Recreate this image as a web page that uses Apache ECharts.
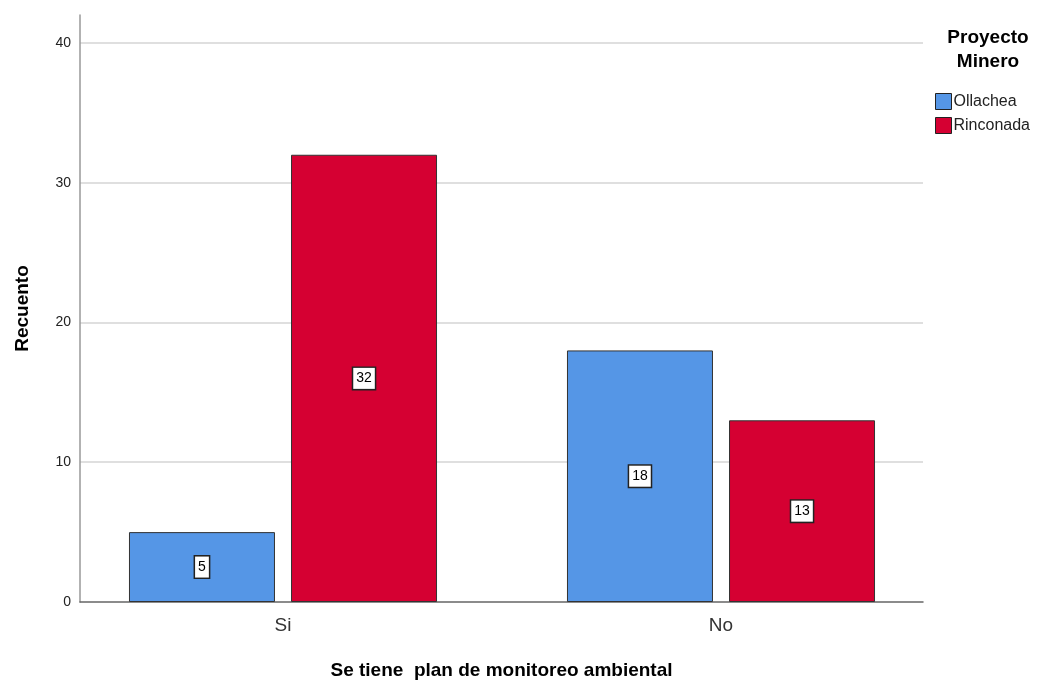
<!DOCTYPE html>
<html>
<head>
<meta charset="utf-8">
<script src="https://cdn.jsdelivr.net/npm/echarts@6/dist/echarts.min.js"></script>
<style>
  html, body { margin: 0; padding: 0; background: #fff; }
  #chart { width: 1043px; height: 684px; }
</style>
</head>
<body>
<div id="chart"></div>
<script>
// Recuento por plan de monitoreo ambiental y proyecto minero
const categories = ['Si', 'No'];
const seriesNames = ['Ollachea', 'Rinconada'];
const ollachea = [5, 18];
const rinconada = [32, 13];
const yTicks = [0, 10, 20, 30, 40];

const FONT = 'Arial, "Liberation Sans", sans-serif';
const colors = ['#5596E6', '#D50032'];

const chart = echarts.init(document.getElementById('chart'));

const barLabel = {
  show: true,
  position: 'inside',
  color: '#000',
  fontFamily: FONT,
  fontSize: 14,
  backgroundColor: '#fff',
  borderColor: '#222',
  borderWidth: 1.5,
  padding: [4, 3, 3, 3]
};

chart.setOption({
  animation: false,
  title: {
    text: 'Proyecto\nMinero',
    left: 983,
    top: 21,
    textAlign: 'center',
    textStyle: {
      fontFamily: FONT,
      fontWeight: 'bold',
      fontSize: 19,
      lineHeight: 24,
      color: '#000'
    }
  },
  legend: {
    data: seriesNames,
    orient: 'vertical',
    left: 930,
    top: 88,
    icon: 'rect',
    itemWidth: 16,
    itemHeight: 16,
    itemGap: 7,
    textStyle: { fontFamily: FONT, fontSize: 16, color: '#222', padding: [0, 0, 0, -3] },
    itemStyle: { borderColor: '#222', borderWidth: 1 }
  },
  grid: [
    // frame: axis lines and gridlines
    { left: 80, right: 120, top: 15, bottom: 82, outerBoundsMode: 'none', containLabel: false },
    // bars
    { left: 64, right: 103, top: 15, bottom: 82, outerBoundsMode: 'none', containLabel: false }
  ],
  xAxis: [
    {
      gridIndex: 0,
      type: 'category',
      data: categories,
      axisLine: { show: true, lineStyle: { color: '#666', width: 1.5 } },
      axisTick: { show: false },
      axisLabel: { show: false },
      name: 'Se tiene  plan de monitoreo ambiental',
      nameLocation: 'middle',
      nameGap: 59,
      nameTextStyle: { fontFamily: FONT, fontWeight: 'bold', fontSize: 19, color: '#000' }
    },
    {
      gridIndex: 1,
      type: 'category',
      data: categories,
      axisLine: { show: false },
      axisTick: { show: false },
      axisLabel: { fontFamily: FONT, fontSize: 19, color: '#333', margin: 14 }
    }
  ],
  yAxis: [
    {
      gridIndex: 0,
      type: 'value',
      min: 0,
      max: 42,
      interval: 10,
      axisLine: { show: true, lineStyle: { color: '#999', width: 1.5 } },
      axisTick: { show: false },
      axisLabel: {
        fontFamily: FONT, fontSize: 14, color: '#222', margin: 9,
        showMaxLabel: false,
        formatter: v => (yTicks.includes(v) ? String(v) : '')
      },
      splitLine: { show: true, showMinLine: false, showMaxLine: false, lineStyle: { color: '#d4d4d4', width: 1.5 } },
      name: 'Recuento',
      nameLocation: 'middle',
      nameGap: 48,
      nameTextStyle: { fontFamily: FONT, fontWeight: 'bold', fontSize: 19, color: '#000' }
    },
    {
      gridIndex: 1,
      type: 'value',
      min: 0,
      max: 42,
      interval: 10,
      show: false
    }
  ],
  series: [
    {
      name: seriesNames[0],
      type: 'bar',
      xAxisIndex: 1,
      yAxisIndex: 1,
      data: ollachea,
      barWidth: 146,
      barGap: '11%',
      itemStyle: { color: colors[0], borderColor: '#333', borderWidth: 1 },
      label: barLabel
    },
    {
      name: seriesNames[1],
      type: 'bar',
      xAxisIndex: 1,
      yAxisIndex: 1,
      data: rinconada,
      barWidth: 146,
      barGap: '11%',
      itemStyle: { color: colors[1], borderColor: '#333', borderWidth: 1 },
      label: barLabel
    }
  ]
});
</script>
</body>
</html>
